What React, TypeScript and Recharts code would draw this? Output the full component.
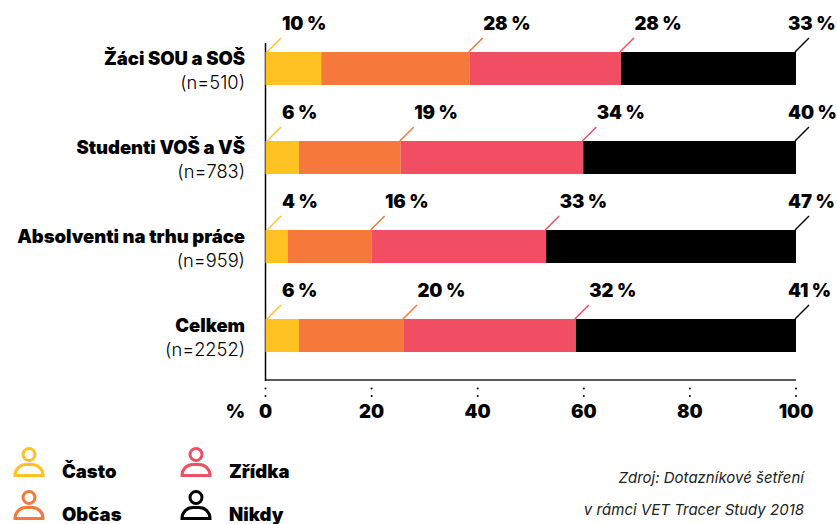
import React from "react";
import { BarChart, Bar, XAxis, YAxis, LabelList } from "recharts";

const FONT = "Inter, 'Noto Sans', sans-serif";
const categories = ["Žáci SOU a SOŠ", "Studenti VOŠ a VŠ", "Absolventi na trhu práce", "Celkem"];
const counts = ["(n=510)", "(n=783)", "(n=959)", "(n=2252)"];
const casto = [10.5, 6.3, 4.2, 6.3];
const obcas = [28, 19.2, 15.8, 19.8];
const zridka = [28.5, 34.4, 32.9, 32.4];
const nikdy = [33, 40.1, 47.1, 41.5];
const castoLabels = ["10 %", "6 %", "4 %", "6 %"];
const obcasLabels = ["28 %", "19 %", "16 %", "20 %"];
const zridkaLabels = ["28 %", "34 %", "33 %", "32 %"];
const nikdyLabels = ["33 %", "40 %", "47 %", "41 %"];
const ticks = [0, 20, 40, 60, 80, 100];
const legendNames = ["Často", "Občas", "Zřídka", "Nikdy"];
const colors = ["#FFC222", "#F6783A", "#F14E64", "#000000"];

const data = categories.map((name, i) => ({
  name,
  count: counts[i],
  casto: casto[i],
  obcas: obcas[i],
  zridka: zridka[i],
  nikdy: nikdy[i],
}));

const makeLabel = (labels: string[], color: string, kind: "first" | "mid" | "last") => (p: any) => {
  const x = Number(p.x), y = Number(p.y), w = Number(p.width);
  const lx = kind === "first" ? x + 1.5 : x + w - 1;
  const tx = kind === "first" ? x + 16.5 : kind === "mid" ? x + w + 13.5 : x + w - 8;
  return (
    <g>
      <line x1={lx} y1={y} x2={lx + 14} y2={y - 14} stroke={color} strokeWidth={1.5} />
      <text x={tx} y={y - 22} fontFamily={FONT} fontWeight={900} fontSize={18.5} letterSpacing={-0.1} fill="#000">
        {labels[p.index]}
      </text>
    </g>
  );
};

const YTick = (p: any) => {
  const i = p.index;
  return (
    <g>
      <text x={245} y={p.y - 3.5} textAnchor="end" fontFamily={FONT} fontWeight={900} fontSize={18.5} letterSpacing={-0.05} fill="#000">
        {categories[i]}
      </text>
      <text x={245} y={p.y + 20.5} textAnchor="end" fontFamily={FONT} fontWeight={300} fontSize={18.3} fill="#000">
        {counts[i]}
      </text>
    </g>
  );
};

const XTick = (p: any) => (
  <g>
    <circle cx={p.x} cy={388.5} r={1} fill="#000" />
    <circle cx={p.x} cy={396} r={1} fill="#000" />
    <text x={p.x} y={418} textAnchor="middle" fontFamily={FONT} fontWeight={900} fontSize={18.5} fill="#000">
      {p.payload.value}
    </text>
    {p.payload.value === 0 && (
      <text x={245} y={418} textAnchor="end" fontFamily={FONT} fontWeight={900} fontSize={18.5} fill="#000">
        %
      </text>
    )}
  </g>
);

const Person = ({ color }: { color: string }) => (
  <svg width={32} height={32} viewBox="0 0 32 32" style={{ display: "block" }}>
    <circle cx={16} cy={8.5} r={6} fill="none" stroke={color} strokeWidth={3} />
    <path d="M2 29.5 H30 C30 23 25 18.5 19 18.5 H13 C7 18.5 2 23 2 29.5 Z" fill="none" stroke={color} strokeWidth={3} />
  </svg>
);

const legendPos = [
  { left: 13, top: 446 },
  { left: 13, top: 489 },
  { left: 180, top: 446 },
  { left: 180, top: 489 },
];

export default function App() {
  return (
    <div style={{ position: "absolute", left: 0, top: 0, width: 837, height: 524, background: "#fff", overflow: "hidden" }}>
      <BarChart
        width={837}
        height={524}
        data={data}
        layout="vertical"
        margin={{ top: 24, right: 41, bottom: 113, left: 0.5 }}
        barCategoryGap={0}
      >
        <XAxis
          type="number"
          domain={[0, 100]}
          ticks={ticks}
          tick={XTick}
          tickLine={false}
          axisLine={{ stroke: "#222", strokeWidth: 1.5 }}
          height={31}
          interval={0}
        />
        <YAxis type="category" dataKey="name" width={265} axisLine={false} tickLine={false} tick={YTick} interval={0} />
        <line x1={265.5} x2={265.5} y1={43} y2={381} stroke="#000" strokeWidth={1.5} />
        <Bar dataKey="casto" stackId="a" fill={colors[0]} barSize={33} isAnimationActive={false}>
          <LabelList dataKey="casto" content={makeLabel(castoLabels, colors[0], "first")} />
        </Bar>
        <Bar dataKey="obcas" stackId="a" fill={colors[1]} barSize={33} isAnimationActive={false}>
          <LabelList dataKey="obcas" content={makeLabel(obcasLabels, colors[1], "mid")} />
        </Bar>
        <Bar dataKey="zridka" stackId="a" fill={colors[2]} barSize={33} isAnimationActive={false}>
          <LabelList dataKey="zridka" content={makeLabel(zridkaLabels, colors[2], "mid")} />
        </Bar>
        <Bar dataKey="nikdy" stackId="a" fill={colors[3]} barSize={33} isAnimationActive={false}>
          <LabelList dataKey="nikdy" content={makeLabel(nikdyLabels, colors[3], "last")} />
        </Bar>
      </BarChart>
      {legendNames.map((n, i) => (
        <div key={n} style={{ position: "absolute", left: legendPos[i].left, top: legendPos[i].top }}>
          <Person color={colors[i]} />
          <div style={{ position: "absolute", left: 49, top: 14, fontFamily: FONT, fontWeight: 900, fontSize: 18.5, color: "#000", whiteSpace: "nowrap" }}>
            {n}
          </div>
        </div>
      ))}
      <div style={{ position: "absolute", right: 33, top: 462, textAlign: "right", fontFamily: FONT, fontStyle: "italic", fontWeight: 400, fontSize: 15, lineHeight: "32px", color: "#222", whiteSpace: "nowrap" }}>
        Zdroj: Dotazníkové šetření
        <br />v rámci VET Tracer Study 2018
      </div>
    </div>
  );
}
